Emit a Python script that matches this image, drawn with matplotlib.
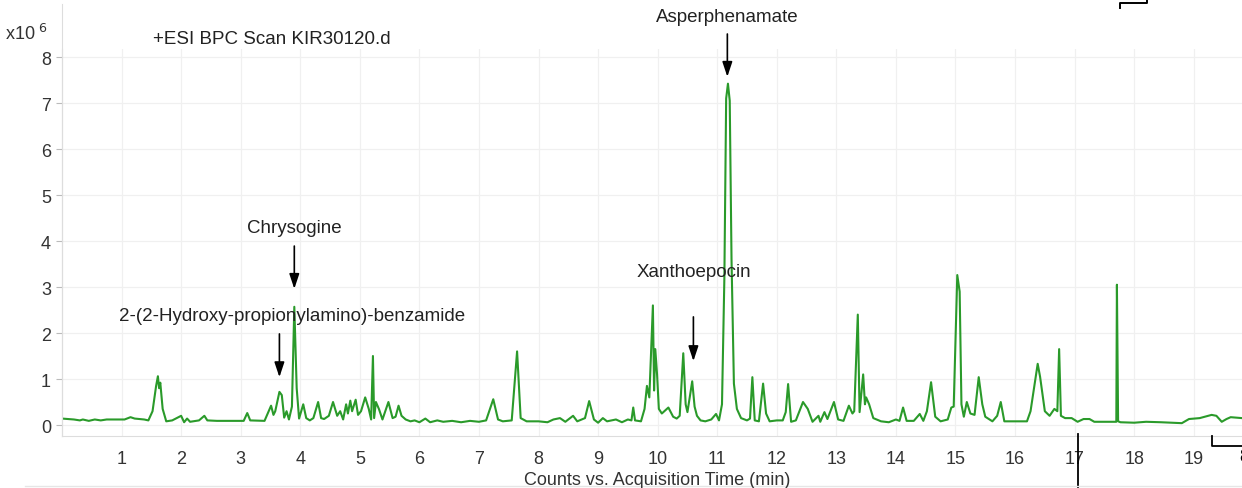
import matplotlib
matplotlib.use("Agg")
import matplotlib.pyplot as plt
from matplotlib.lines import Line2D

# ---- data (time in min, counts in 1e6) ----
time_min = [
    0.00, 0.10, 0.20, 0.30, 0.35, 0.45, 0.55, 0.65, 0.75, 0.90, 1.05, 1.15, 1.22, 1.30, 1.38, 1.45,
    1.52, 1.58, 1.61, 1.63, 1.65, 1.69, 1.75, 1.85, 2.00, 2.05, 2.10, 2.15, 2.30, 2.39, 2.44, 2.60,
    2.80, 3.05, 3.11, 3.16, 3.40, 3.47, 3.51, 3.55, 3.58, 3.65, 3.69, 3.73, 3.77, 3.81, 3.86, 3.90,
    3.94, 3.98, 4.05, 4.10, 4.16, 4.22, 4.30, 4.35, 4.40, 4.48, 4.55, 4.62, 4.67, 4.72, 4.77, 4.80,
    4.84, 4.87, 4.93, 4.97, 5.02, 5.09, 5.15, 5.19, 5.22, 5.24, 5.27, 5.32, 5.38, 5.48, 5.55, 5.60,
    5.65, 5.70, 5.77, 5.85, 5.92, 6.00, 6.10, 6.18, 6.30, 6.40, 6.55, 6.70, 6.85, 7.00, 7.12, 7.24,
    7.32, 7.40, 7.55, 7.64, 7.70, 7.80, 8.00, 8.15, 8.25, 8.36, 8.45, 8.58, 8.65, 8.78, 8.85, 8.93,
    9.00, 9.08, 9.15, 9.30, 9.40, 9.50, 9.56, 9.59, 9.62, 9.72, 9.78, 9.82, 9.86, 9.92, 9.94, 9.96,
    9.99, 10.02, 10.07, 10.18, 10.26, 10.32, 10.37, 10.43, 10.47, 10.50, 10.55, 10.58, 10.62, 10.66,
    10.72, 10.80, 10.90, 10.98, 11.03, 11.08, 11.12, 11.15, 11.18, 11.21, 11.24, 11.28, 11.33, 11.40, 11.50,
    11.55, 11.59, 11.63, 11.70, 11.77, 11.82, 11.88, 12.00, 12.10, 12.15, 12.19, 12.24, 12.32, 12.44,
    12.52, 12.60, 12.70, 12.73, 12.80, 12.85, 12.96, 13.03, 13.12, 13.21, 13.27, 13.30, 13.36, 13.39,
    13.45, 13.48, 13.50, 13.55, 13.62, 13.75, 13.88, 14.00, 14.06, 14.12, 14.18, 14.30, 14.40, 14.46,
    14.52, 14.59, 14.66, 14.75, 14.87, 14.93, 14.97, 15.00, 15.03, 15.07, 15.10, 15.14, 15.19, 15.25,
    15.32, 15.39, 15.45, 15.50, 15.62, 15.70, 15.76, 15.82, 16.00, 16.20, 16.26, 16.38, 16.42, 16.50,
    16.58, 16.66, 16.71, 16.74, 16.77, 16.84, 16.95, 17.05, 17.15, 17.25, 17.33, 17.45, 17.70, 17.71,
    17.73, 17.77, 18.00, 18.20, 18.45, 18.80, 18.92, 19.10, 19.30, 19.38, 19.47, 19.55, 19.62, 19.81,
]
counts_e6 = [
    0.14, 0.13, 0.12, 0.10, 0.12, 0.09, 0.12, 0.10, 0.12, 0.12, 0.12, 0.17, 0.14, 0.13, 0.12, 0.10,
    0.30, 0.85, 1.06, 0.80, 0.92, 0.35, 0.08, 0.10, 0.20, 0.06, 0.14, 0.07, 0.10, 0.20, 0.10, 0.09,
    0.09, 0.09, 0.26, 0.10, 0.09, 0.30, 0.42, 0.22, 0.30, 0.72, 0.65, 0.16, 0.30, 0.12, 0.40, 2.57,
    0.80, 0.14, 0.45, 0.15, 0.10, 0.15, 0.50, 0.15, 0.13, 0.20, 0.50, 0.20, 0.30, 0.12, 0.45, 0.25,
    0.53, 0.30, 0.55, 0.22, 0.30, 0.60, 0.35, 0.12, 1.50, 0.15, 0.50, 0.35, 0.12, 0.50, 0.15, 0.18,
    0.42, 0.20, 0.12, 0.08, 0.10, 0.06, 0.14, 0.06, 0.10, 0.07, 0.09, 0.06, 0.09, 0.07, 0.10, 0.56,
    0.12, 0.08, 0.10, 1.60, 0.15, 0.08, 0.08, 0.06, 0.12, 0.15, 0.07, 0.20, 0.08, 0.15, 0.52, 0.12,
    0.05, 0.15, 0.08, 0.12, 0.06, 0.12, 0.10, 0.38, 0.10, 0.08, 0.35, 0.85, 0.60, 2.60, 0.75, 1.65,
    1.10, 0.35, 0.25, 0.38, 0.18, 0.14, 0.20, 1.56, 0.45, 0.28, 0.70, 0.95, 0.40, 0.20,
    0.10, 0.08, 0.12, 0.24, 0.10, 0.45, 3.20, 7.10, 7.42, 7.05, 3.60, 0.90, 0.35, 0.15, 0.10,
    0.14, 1.04, 0.10, 0.08, 0.90, 0.25, 0.08, 0.10, 0.10, 0.28, 0.89, 0.07, 0.10, 0.50,
    0.35, 0.07, 0.20, 0.07, 0.28, 0.13, 0.50, 0.12, 0.09, 0.42, 0.25, 0.30, 2.40, 0.28,
    1.10, 0.45, 0.60, 0.45, 0.15, 0.08, 0.06, 0.12, 0.09, 0.38, 0.09, 0.09, 0.24, 0.09,
    0.30, 0.93, 0.18, 0.08, 0.12, 0.38, 0.40, 1.80, 3.26, 2.90, 0.45, 0.18, 0.50, 0.25,
    0.22, 1.04, 0.45, 0.18, 0.08, 0.20, 0.50, 0.08, 0.08, 0.08, 0.30, 1.33, 1.05, 0.30,
    0.20, 0.35, 0.30, 1.65, 0.20, 0.15, 0.15, 0.07, 0.13, 0.13, 0.07, 0.07, 0.07, 3.05,
    0.08, 0.06, 0.05, 0.07, 0.06, 0.04, 0.13, 0.15, 0.22, 0.20, 0.07, 0.13, 0.17, 0.15,
]
x_ticks = list(range(1, 20))
y_ticks = list(range(0, 9))

# annotations: label, peak time, arrow tail, arrow tip, label position (time, value)
ann_labels = ["Asperphenamate", "Chrysogine", "2-(2-Hydroxy-propionylamino)-benzamide", "Xanthoepocin"]
ann_time = [11.17, 3.90, 3.65, 10.60]
ann_tail = [8.50, 3.89, 1.98, 2.35]
ann_tip = [7.57, 2.96, 1.04, 1.39]
ann_text_xy = [(11.17, 8.89), (3.90, 4.30), (3.87, 2.39), (10.60, 3.33)]

W, H = 1242, 489
FS = 13.5
plt.rcParams['font.family'] = ['Liberation Sans', 'DejaVu Sans']
fig = plt.figure(figsize=(W / 100, H / 100), dpi=100)
ax = fig.add_axes([62 / W, 1 - 437 / H, 1 - 62 / W, (437 - 50) / H])

ax.plot(time_min, counts_e6, color='#2a9a2a', lw=1.5, solid_joinstyle='round', zorder=3)

ax.set_xlim(0, 19.81)
ax.set_ylim(-0.239, 8.174)
ax.set_xticks(x_ticks)
ax.set_yticks(y_ticks)
ax.tick_params(axis='both', labelsize=FS - 0.5, colors='#222222', length=4, width=0.8)
ax.tick_params(axis='x', length=0, pad=10)
ax.tick_params(axis='y', color='#bbbbbb', pad=4)
for lab in ax.get_xticklabels() + ax.get_yticklabels():
    lab.set_color('#333333')
ax.grid(True, color='#f0f0f0', lw=0.9, zorder=0)
for s in ['top', 'right']:
    ax.spines[s].set_visible(False)
ax.spines['left'].set_color('#cccccc')
ax.spines['bottom'].set_color('#dddddd')

# annotations
for lab, t, tail, tip, (tx, ty) in zip(ann_labels, ann_time, ann_tail, ann_tip, ann_text_xy):
    ax.annotate('', xy=(t, tip), xytext=(t, tail),
                arrowprops=dict(arrowstyle='-|>,head_length=0.9,head_width=0.3', color='black',
                                lw=1.2, shrinkA=0, shrinkB=0),
                annotation_clip=False)
    ax.text(tx, ty, lab, ha='center', va='center', fontsize=FS, color='#222222', clip_on=False)

# header texts
fig.text(153 / W, 1 - 40 / H, '+ESI BPC Scan KIR30120.d', ha='left', va='center', fontsize=FS, color='#222222')
fig.text(5 / W, 1 - 34 / H, r'x10$^{\ 6}$', ha='left', va='center', fontsize=FS - 0.5, color='#333333')
fig.text(657 / W, 1 - 481 / H, 'Counts vs. Acquisition Time (min)', ha='center', va='center',
         fontsize=FS - 0.5, color='#333333')

# extra fragments at figure edges
def fline(xs, ys, **kw):
    fig.add_artist(Line2D([x / W for x in xs], [1 - y / H for y in ys], transform=fig.transFigure, **kw))

fline([62, 62], [5, 437], color='#dddddd', lw=0.8)
fline([1120, 1120, 1147, 1147], [9, 4, 4, 0], color='black', lw=1.4)
fline([1078, 1078], [435, 489], color='black', lw=1.3)
fline([1212, 1212, 1242], [437, 447, 447], color='black', lw=1.3)
fline([25, 1242], [487, 487], color='#e6e6e6', lw=1.0)
fig.text(1239 / W, 1 - 458 / H, '8', ha='left', va='center', fontsize=FS - 0.5, color='black')

fig.savefig('out.png', dpi=100)
